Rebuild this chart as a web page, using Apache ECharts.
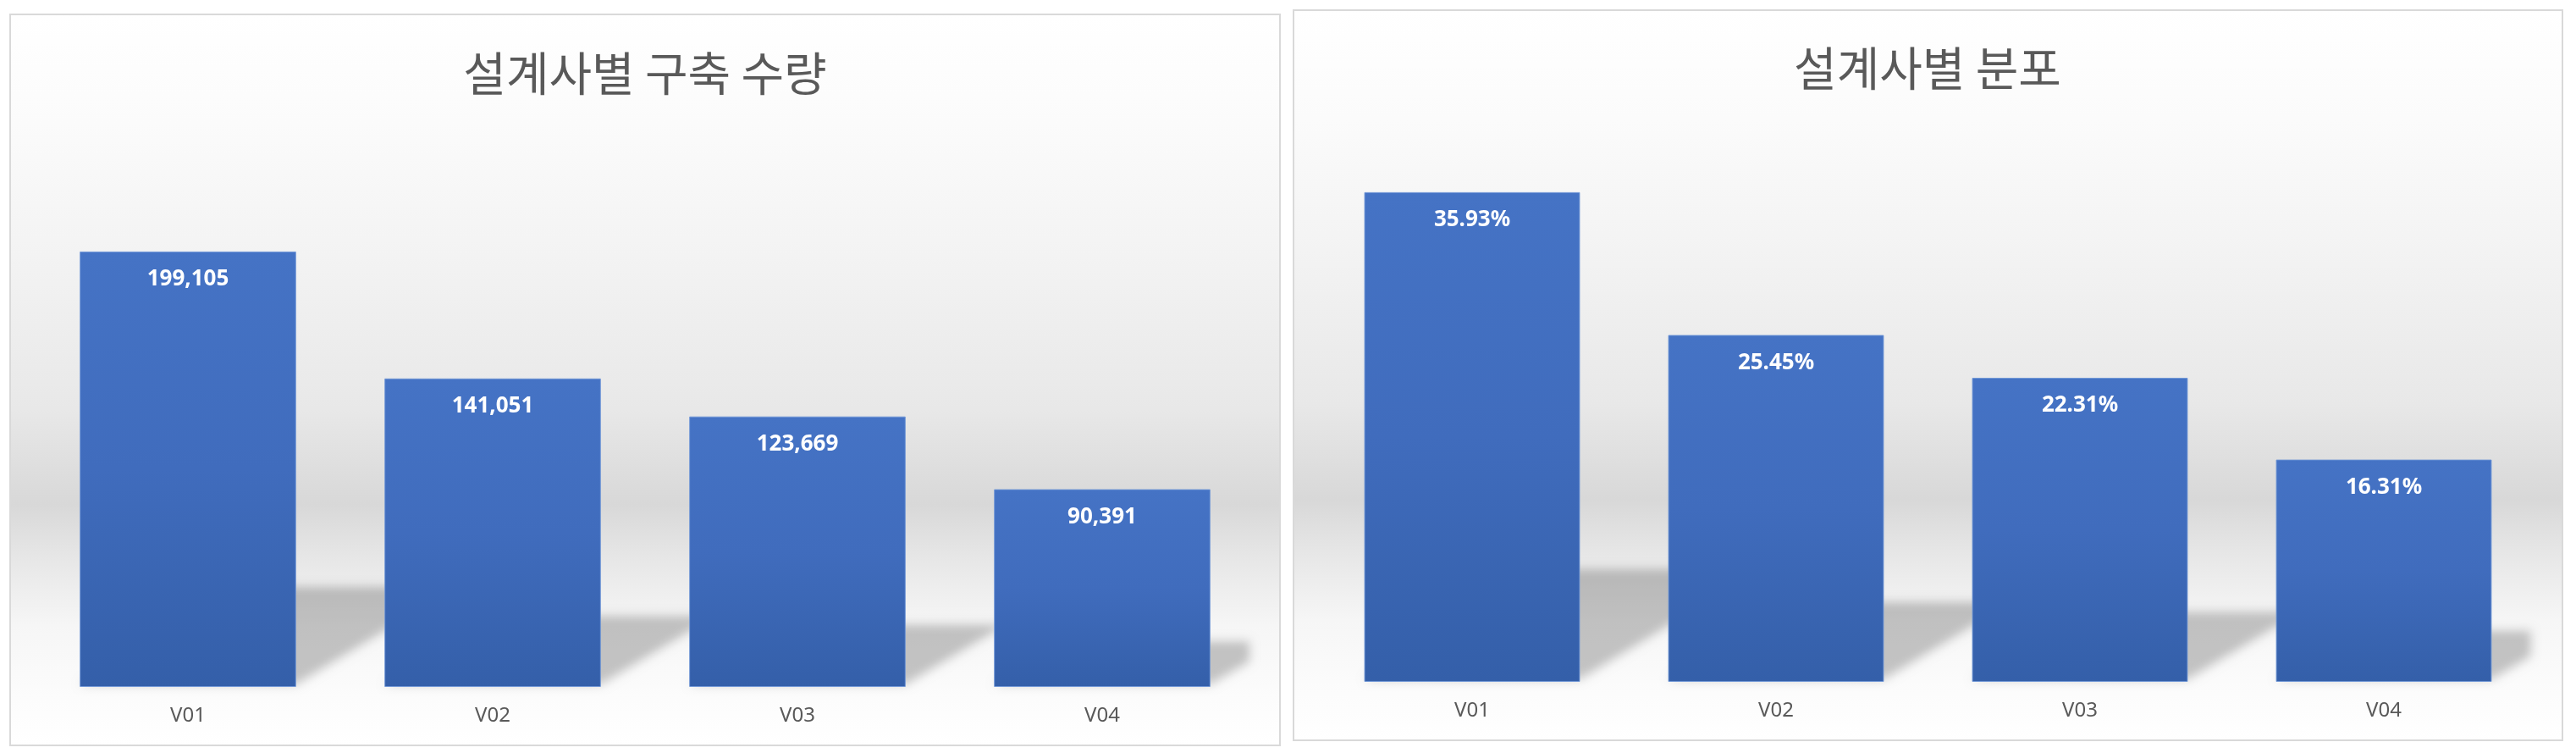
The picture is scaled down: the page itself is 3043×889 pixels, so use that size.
<!DOCTYPE html>
<html>
<head>
<meta charset="utf-8">
<script src="https://cdn.jsdelivr.net/npm/echarts@6/dist/echarts.min.js"></script>
<style>
  html, body { margin: 0; padding: 0; background: #ffffff; }
  #chart { width: 3043px; height: 889px; }
</style>
</head>
<body>
<div id="chart"></div>
<script>
// ---- data ----
const categories = ['V01', 'V02', 'V03', 'V04'];
const countValues = [199105, 141051, 123669, 90391];
const shareValues = [35.93, 25.45, 22.31, 16.31];
const leftTitle = '설계사별 구축 수량';
const rightTitle = '설계사별 분포';

// ---- helpers ----
const OFF = 8000;
function clipX(pts, xmax) {
  const out = [];
  for (let i = 0; i < pts.length; i++) {
    const a = pts[i], b = pts[(i + 1) % pts.length];
    const ain = a[0] <= xmax, bin = b[0] <= xmax;
    if (ain) out.push(a);
    if (ain !== bin) {
      const t = (xmax - a[0]) / (b[0] - a[0]);
      out.push([xmax, a[1] + t * (b[1] - a[1])]);
    }
  }
  return out;
}
function shadowItem(params, api) {
  const idx = api.value(0);
  const val = api.value(1);
  const base = api.coord([idx, 0]);
  const top = api.coord([idx, val]);
  const bw = api.size([1, 0])[0] * 0.71;
  const h = base[1] - top[1];
  const xl = base[0] - bw / 2, xr = base[0] + bw / 2;
  const dy = 0.23 * h, dx = 0.37 * h;
  const b = base[1] - 3;
  let pts = [[xl, b], [xr, b], [xr + dx, base[1] - dy], [xl + dx, base[1] - dy]];
  pts = clipX(pts, params.coordSys.x + params.coordSys.width - 6);
  return {
    type: 'polygon',
    silent: true,
    shape: { points: pts.map(p => [p[0] + OFF, p[1]]) },
    style: {
      fill: '#000',
      shadowBlur: 12,
      shadowColor: 'rgba(0,0,0,0.22)',
      shadowOffsetX: -OFF,
      shadowOffsetY: 0
    }
  };
}
const barColor = {
  type: 'linear', x: 0, y: 0, x2: 0, y2: 1,
  colorStops: [
    { offset: 0, color: '#4573c5' },
    { offset: 0.5, color: '#406cbd' },
    { offset: 1, color: '#345fa9' }
  ]
};
const panelFill = {
  type: 'linear', x: 0, y: 0, x2: 0, y2: 1,
  colorStops: [
    { offset: 0, color: '#ffffff' },
    { offset: 0.15, color: '#fbfbfb' },
    { offset: 0.33, color: '#f3f3f3' },
    { offset: 0.54, color: '#e8e8e8' },
    { offset: 0.67, color: '#d8d8d8' },
    { offset: 0.74, color: '#e6e6e6' },
    { offset: 0.835, color: '#f6f6f6' },
    { offset: 0.935, color: '#fcfcfc' },
    { offset: 1, color: '#ffffff' }
  ]
};
const labelFont = 'Noto Sans, Liberation Sans, sans-serif';
const titleFont = 'Noto Sans CJK KR, Noto Sans, sans-serif';

function xAxis(gridIndex) {
  return {
    type: 'category', gridIndex: gridIndex, data: categories,
    axisLine: { show: false }, axisTick: { show: false },
    axisLabel: { color: '#595959', fontSize: 24, margin: 22, fontFamily: labelFont }
  };
}
function yAxis(gridIndex, max) {
  return { type: 'value', gridIndex: gridIndex, min: 0, max: max, show: false, splitLine: { show: false } };
}
function barSeries(idx, values, fmt) {
  return {
    type: 'bar', xAxisIndex: idx, yAxisIndex: idx, data: values, z: 3,
    barCategoryGap: '29%',
    itemStyle: { color: barColor, borderColor: 'rgba(110,150,215,0.9)', borderWidth: 1 },
    label: {
      show: true, position: 'insideTop', distance: 20, color: '#ffffff',
      fontSize: 26, fontWeight: 'bold', fontFamily: labelFont, formatter: fmt
    }
  };
}
function shadowSeries(idx, values) {
  return {
    type: 'custom', xAxisIndex: idx, yAxisIndex: idx, z: 1, clip: false, silent: true,
    data: values.map((v, i) => [i, v]),
    renderItem: shadowItem
  };
}

const chart = echarts.init(document.getElementById('chart'), null, { renderer: 'canvas', devicePixelRatio: 1 });
chart.setOption({
  animation: false,
  backgroundColor: '#ffffff',
  graphic: [
    { type: 'rect', z: -10, shape: { x: 12, y: 17, width: 1500, height: 863 },
      style: { fill: panelFill, stroke: '#d9d9d9', lineWidth: 2 } },
    { type: 'rect', z: -10, shape: { x: 1528, y: 12, width: 1499, height: 862 },
      style: { fill: panelFill, stroke: '#d9d9d9', lineWidth: 2 } },
    { type: 'text', z: 10, x: 762, y: 86,
      style: { text: leftTitle, fill: '#595959', font: '55px ' + titleFont, textAlign: 'center', textVerticalAlign: 'middle' } },
    { type: 'text', z: 10, x: 2277, y: 80,
      style: { text: rightTitle, fill: '#595959', font: '55px ' + titleFont, textAlign: 'center', textVerticalAlign: 'middle' } }
  ],
  grid: [
    { left: 42, width: 1440, top: 165.5, height: 645.5 },
    { left: 1559.5, width: 1436, top: 161.4, height: 643.6 }
  ],
  xAxis: [xAxis(0), xAxis(1)],
  yAxis: [yAxis(0, 250000), yAxis(1, 40)],
  series: [
    shadowSeries(0, countValues),
    barSeries(0, countValues, p => p.value.toLocaleString('en-US')),
    shadowSeries(1, shareValues),
    barSeries(1, shareValues, p => p.value.toFixed(2) + '%')
  ]
});
</script>
</body>
</html>
